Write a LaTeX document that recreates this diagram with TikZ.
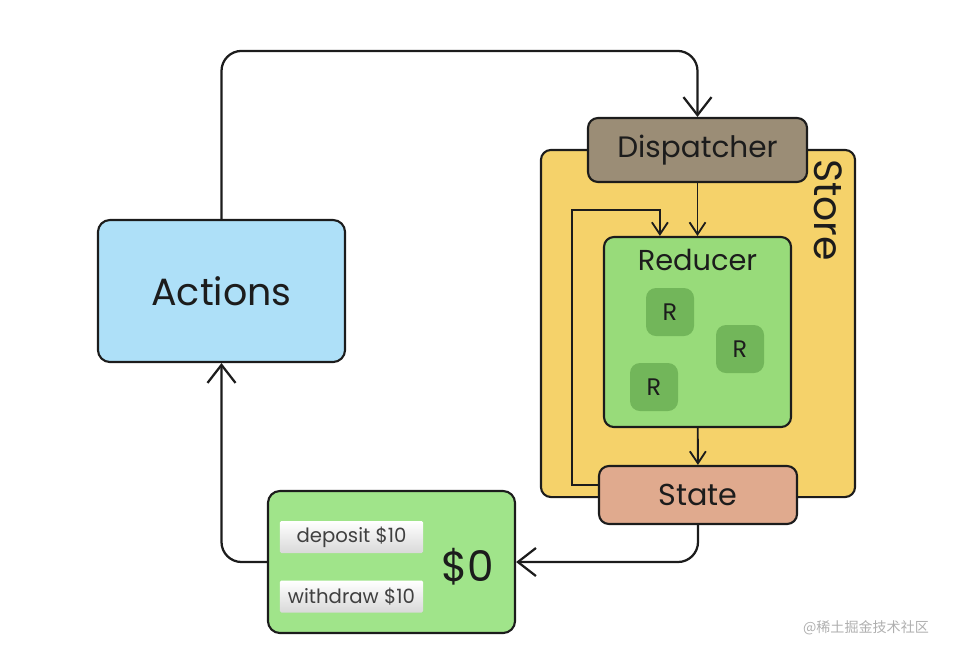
\documentclass[tikz,border=0pt]{standalone}
\usepackage{fontspec}
\setmainfont{Poppins}
\newfontfamily\cjkfont{Noto Sans CJK SC}
\usetikzlibrary{positioning,arrows.meta,calc}
\definecolor{InkBlack}{RGB}{28,28,28}
\definecolor{ActionBlue}{RGB}{174,224,248}
\definecolor{DispBrown}{RGB}{155,141,118}
\definecolor{StoreYellow}{RGB}{245,210,106}
\definecolor{ReducerGreen}{RGB}{152,219,122}
\definecolor{RGreen}{RGB}{114,182,90}
\definecolor{StateSalmon}{RGB}{224,170,142}
\definecolor{ViewGreen}{RGB}{160,228,138}
\definecolor{MarkGray}{RGB}{175,175,175}
\tikzset{
  bigflow/.style={-{Straight Barb[length=4.5mm,width=7mm]},line width=1.6pt,
    draw=InkBlack,rounded corners=0.5cm},
  smallflow/.style={-{Straight Barb[length=3mm,width=4mm]},line width=1.3pt,
    draw=InkBlack},
  box/.style={draw=InkBlack,line width=1.5pt,rounded corners=0.3cm,inner sep=0pt,
    align=center,text=InkBlack},
  bluebox/.style={box,fill=ActionBlue,font=\fontsize{27}{30}\selectfont},
  brownbox/.style={box,fill=DispBrown,rounded corners=0.25cm,font=\fontsize{21}{24}\selectfont},
  yellowbox/.style={box,fill=StoreYellow,rounded corners=0.25cm},
  greenbox/.style={box,fill=ReducerGreen,rounded corners=0.25cm},
  salmonbox/.style={box,fill=StateSalmon,rounded corners=0.25cm,font=\fontsize{21.5}{24}\selectfont},
  viewbox/.style={box,fill=ViewGreen},
  rbox/.style={fill=RGreen,rounded corners=0.25cm,minimum size=1.2cm,inner sep=0pt,
    text=InkBlack,font=\fontsize{17}{20}\selectfont},
  button/.style={top color=white,bottom color=black!15,rounded corners=1pt,
    minimum width=3.575cm,minimum height=0.8cm,inner sep=0pt,text=black!75,
    font=\fontsize{14}{16}\selectfont}
}
\begin{document}
\begin{tikzpicture}[x=0.025cm,y=-0.025cm]
  \useasboundingbox (0,0) rectangle (967,647);
  % store and its parts
  \node[yellowbox,minimum width=7.85cm,minimum height=8.675cm] (store) at (698,323.5) {};
  \node[rotate=-90,text=InkBlack,font=\fontsize{28}{32}\selectfont] (storetitle) at (828,210) {Store};
  \node[brownbox,minimum width=5.475cm,minimum height=1.6cm] (dispatcher) at (697.5,150) {Dispatcher};
  \node[greenbox,minimum width=4.675cm,minimum height=4.75cm] (reducer) at (697.5,332) {};
  \node[text=InkBlack,font=\fontsize{20.5}{24}\selectfont] (reducertitle)
    at ($(reducer.north)+(0,-0.6cm)$) {Reducer};
  \node[rbox] (r1) at (670,312) {R};
  \node[rbox] (r2) at (740,349) {R};
  \node[rbox] (r3) at (654,387) {R};
  \node[salmonbox,minimum width=4.95cm,minimum height=1.45cm] (state) at (698,495) {State};
  % actions and view
  \node[bluebox,minimum width=6.175cm,minimum height=3.55cm] (actions) at (221.5,291) {Actions};
  \node[viewbox,minimum width=6.175cm,minimum height=3.55cm] (view) at (391.5,562) {};
  \node[button] (deposit) at (351.5,537) {deposit \$10};
  \node[button,below=0.675cm of deposit] (withdraw) {withdraw \$10};
  \node[text=InkBlack,font=\fontsize{30}{34}\selectfont] (balance) at (468,567) {\$0};
  % connectors
  \coordinate (topright) at ($(dispatcher.north)+(0,1.65cm)$);
  \coordinate (loopcorner) at (572,210);
  \draw[bigflow] (actions.north) |- (topright) -- (dispatcher.north);
  \draw[smallflow] (dispatcher) -- (reducer);
  \draw[smallflow] (reducer) -- (state);
  \draw[smallflow] ($(state.west)+(0,0.25cm)$) -| (loopcorner) -| ($(reducer.north)+(-0.94cm,0)$);
  \draw[bigflow] (state.south) |- (view.east);
  \draw[bigflow] (view.west) -| (actions.south);
  \node[text=MarkGray,font=\cjkfont\fontsize{10}{12}\selectfont] (mark) at (866,628) {@稀土掘金技术社区};
\end{tikzpicture}
\end{document}
